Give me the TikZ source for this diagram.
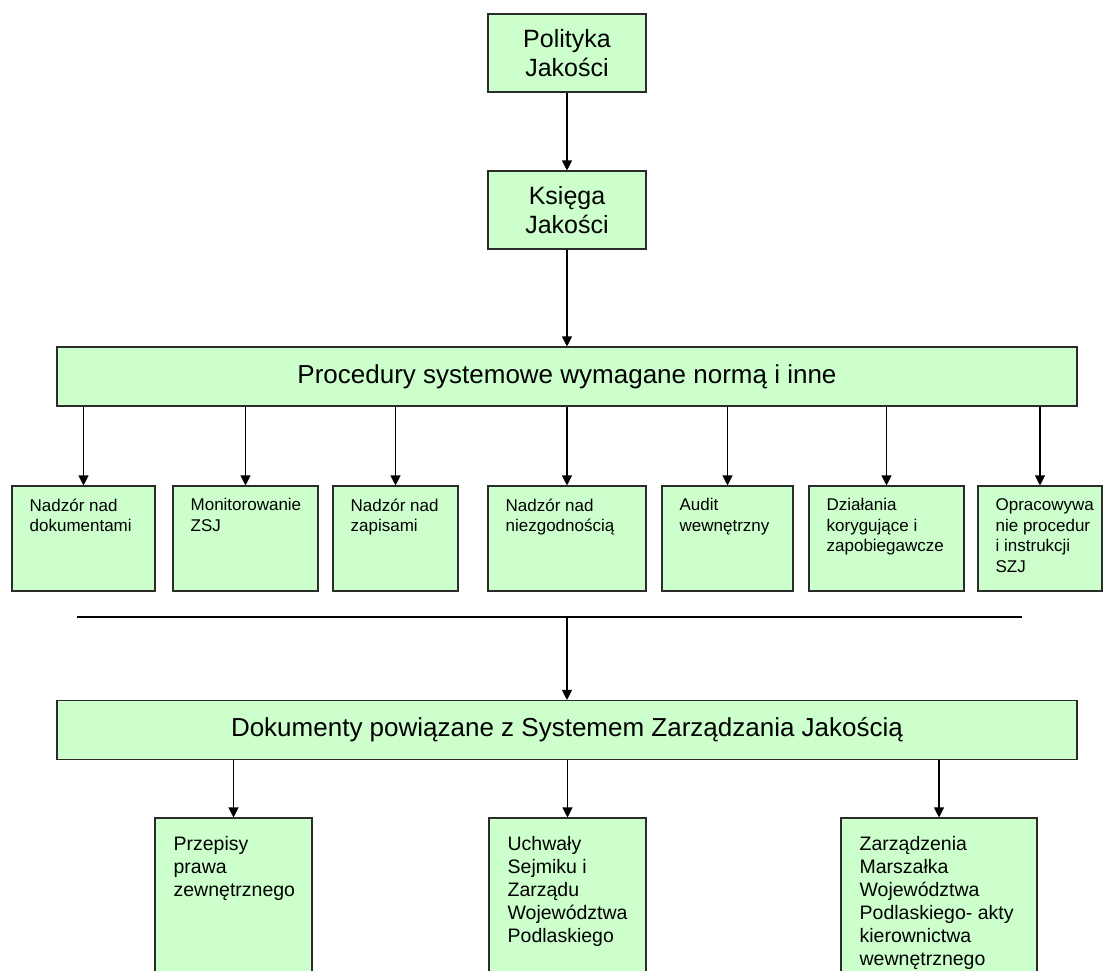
\documentclass[tikz,border=0pt]{standalone}
\usepackage{fontspec}
\setmainfont{Liberation Sans}
\usepackage{tikz}
\usetikzlibrary{arrows.meta,positioning}
\definecolor{qmsGreen}{HTML}{CCFFCC}
\definecolor{qmsInk}{HTML}{2B2B2B}
\tikzset{
  docbox/.style={
    rectangle,
    draw=qmsInk,
    fill=qmsGreen,
    line width=1.1pt,
    inner sep=0pt
  },
  headbox/.style={
    docbox,
    minimum width=158pt,
    minimum height=78pt,
    align=center,
    font=\fontsize{25}{29}\selectfont
  },
  widebox/.style={
    docbox,
    minimum width=1020pt,
    minimum height=59pt,
    font=\fontsize{26}{30}\selectfont
  },
  stepbox/.style={
    docbox,
    minimum height=105pt
  },
  lowbox/.style={
    docbox,
    minimum height=162pt
  },
  steptext/.style={
    anchor=north west,
    align=left,
    inner sep=0pt,
    xshift=18pt,
    yshift=-13pt,
    font=\fontsize{17}{20.5}\selectfont
  },
  lowtext/.style={
    anchor=north west,
    align=left,
    inner sep=0pt,
    xshift=19pt,
    yshift=-19pt,
    font=\fontsize{19.5}{23}\selectfont
  },
  arrow/.style={
    -{Triangle[length=10pt,width=10pt]},
    line width=1.1pt,
    draw=black
  }
}

\begin{document}
\begin{tikzpicture}[x=1pt,y=-1pt]
  \useasboundingbox (0,0) rectangle (1106,970);
  \clip (0,0) rectangle (1106,970);
  \node[headbox] (polityka) at (567,53) {Polityka\\Jakości};
  \node[headbox] (ksiega) at (567,210) {Księga\\Jakości};
  \node[widebox] (procedury) at (567,376.5) {Procedury systemowe wymagane normą i inne};
  % procedury systemowe
  \node[stepbox,minimum width=143pt,label={[steptext]north west:{Nadzór nad\\dokumentami}}] (nadzorDok) at (83.5,538.5) {};
  \node[stepbox,minimum width=145pt,label={[steptext]north west:{Monitorowanie\\ZSJ}}] (monitorZsj) at (245.5,538.5) {};
  \node[stepbox,minimum width=125pt,label={[steptext]north west:{Nadzór nad\\zapisami}}] (nadzorZap) at (395.5,538.5) {};
  \node[stepbox,minimum width=158pt,label={[steptext]north west:{Nadzór nad\\niezgodnością}}] (nadzorNiezg) at (567,538.5) {};
  \node[stepbox,minimum width=131pt,label={[steptext]north west:{Audit\\wewnętrzny}}] (auditWew) at (727.5,538.5) {};
  \node[stepbox,minimum width=155pt,label={[steptext]north west:{Działania\\korygujące i\\zapobiegawcze}}] (dzialKor) at (886.5,538.5) {};
  \node[stepbox,minimum width=124pt,label={[steptext]north west:{Opracowywa\\nie procedur\\i instrukcji\\SZJ}}] (opracProc) at (1040,538.5) {};
  \coordinate (sepLeft) at (77,617);
  \coordinate (sepRight) at (1022,617);
  \draw[line width=1.1pt] (sepLeft) -- (sepRight);
  \node[widebox] (dokumenty) at (567,730) {Dokumenty powiązane z Systemem Zarządzania Jakością};
  % dokumenty powiazane
  \node[lowbox,minimum width=157pt,label={[lowtext]north west:{Przepisy\\prawa\\zewnętrznego}}] (przepisy) at (233.5,899) {};
  \node[lowbox,minimum width=157pt,label={[lowtext]north west:{Uchwały\\Sejmiku i\\Zarządu\\Województwa\\Podlaskiego}}] (uchwaly) at (567.5,899) {};
  \node[lowbox,minimum width=196pt,label={[lowtext]north west:{Zarządzenia\\Marszałka\\Województwa\\Podlaskiego- akty\\kierownictwa\\wewnętrznego}}] (zarzadzenia) at (939,899) {};
  \draw[arrow] (polityka) -- (ksiega);
  \draw[arrow] (ksiega) -- (procedury);
  \foreach \step in {nadzorDok,monitorZsj,nadzorZap,nadzorNiezg,auditWew,dzialKor,opracProc}
    \draw[arrow] (\step.north |- procedury.south) -- (\step.north);
  \draw[arrow] (dokumenty.north |- sepLeft) -- (dokumenty.north);
  \foreach \doc in {przepisy,uchwaly,zarzadzenia}
    \draw[arrow] (\doc.north |- dokumenty.south) -- (\doc.north);
\end{tikzpicture}
\end{document}
